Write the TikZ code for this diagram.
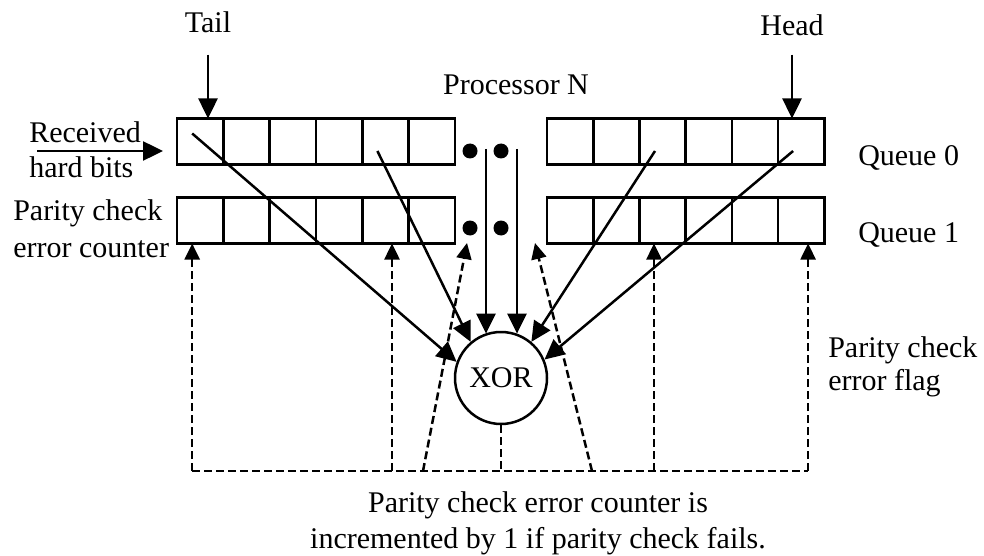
\documentclass[tikz,border=0pt]{standalone}
\usepackage{fontspec}
\setmainfont{Liberation Serif}
\usepackage{tikz}
\usetikzlibrary{arrows.meta, positioning, calc}

\begin{document}
\begin{tikzpicture}[x=1pt, y=-1pt, line width=2.5pt,
        cell/.style={draw, minimum width=46.3pt, minimum height=46pt, inner sep=0pt, outer sep=0pt},
        dot/.style={circle, fill, inner sep=0pt, minimum size=15pt},
        lbl/.style={font=\fontsize{30}{34}\selectfont, inner sep=0pt},
        arr/.style={-{Triangle[length=20pt, width=19pt]}},
        darr/.style={-{Triangle[length=16pt, width=15pt]}, dash pattern=on 8pt off 4pt},
        dline/.style={dash pattern=on 8pt off 4pt}]
        \useasboundingbox (0,0) rectangle (984,556);

        % Queue cells
        \foreach \i in {0,...,5} {
            \node[cell] (la\i) at (200.2+46.3*\i, 141.5) {};
            \node[cell] (lb\i) at (200.2+46.3*\i, 220.5) {};
            \node[cell] (ra\i) at (570.1+46.2*\i, 141.5) {};
            \node[cell] (rb\i) at (570.1+46.2*\i, 220.5) {};
        }

        % Dots between the halves
        \node[dot] (da) at (470,151) {};
        \node[dot] (db) at (501,151) {};
        \node[dot] (dc) at (470,228) {};
        \node[dot] (dd) at (501,228) {};

        % XOR
        \node[circle, draw, minimum size=92pt, lbl] (xor) at (501,378) {XOR};

        % Labels
        \node[lbl, anchor=base] (tail) at (208,33) {Tail};
        \node[lbl, anchor=base] (head) at (792,36) {Head};
        \node[lbl, anchor=base] (proc) at (516,95) {Processor N};
        \node[lbl, anchor=base west] (recv) at (28,143) {Received};
        \node[lbl, anchor=base west] (hard) at (28,178) {hard bits};
        \node[lbl, anchor=base west] (cnt1) at (12,220) {Parity check};
        \node[lbl, anchor=base west] (cnt2) at (12,257) {error counter};
        \node[lbl, anchor=base west] (q0) at (857,165) {Queue 0};
        \node[lbl, anchor=base west] (q1) at (857,242) {Queue 1};
        \node[lbl, anchor=base west] (flag1) at (827,357) {Parity check};
        \node[lbl, anchor=base west] (flag2) at (827,390) {error flag};
        \node[lbl, anchor=base] (note1) at (538,512) {Parity check error counter is};
        \node[lbl, anchor=base] (note2) at (538,548) {incremented by 1 if parity check fails.};

        % Tail, head and input
        \draw[arr] ([yshift=-20pt]tail.south) -- (tail |- la0.north);
        \draw[arr] ([yshift=-17pt]head.south) -- (head |- ra5.north);
        \coordinate (rin) at (37,151);
        \coordinate (rout) at (163,151);
        \draw[arr] (rin) -- (rout);

        % Bits into XOR
        \draw[arr] ([shift={(-8,-8)}]la0.center) -- (xor.160);
        \draw[arr] ([shift={(-8,9.5)}]la4.center) -- (xor.130);
        \draw[arr] ([shift={(-7.5,9.5)}]ra2.center) -- (xor.50);
        \draw[arr] ([shift={(-8,9.5)}]ra5.center) -- (xor.23);
        \coordinate (v1) at (486,149);
        \coordinate (v2) at (517,149);
        \draw[arr] (v1) -- (xor.110 -| v1);
        \draw[arr] (v2) -- (xor.70 -| v2);

        % Error flag back to counters
        \coordinate (b0) at (192,471);
        \coordinate (b1) at (808,471);
        \draw[dline] (b0) -- (b1);
        \draw[dline] (xor.south) -- (xor.south |- b0);
        \coordinate (t1) at ([xshift=-8pt]lb0.south);
        \coordinate (t2) at ([xshift=6.6pt]lb4.south);
        \coordinate (t3) at ([xshift=-8.5pt]rb2.south);
        \coordinate (t4) at ([xshift=7pt]rb5.south);
        \draw[darr] (t1 |- b0) -- (t1);
        \draw[darr] (t2 |- b0) -- (t2);
        \draw[darr] (t3 |- b0) -- (t3);
        \draw[darr] (t4 |- b0) -- (t4);
        \coordinate (s1) at (423,471);
        \coordinate (s2) at (592,471);
        \coordinate (e1) at (467,243);
        \coordinate (e2) at (535,243);
        \draw[darr] (s1) -- (e1);
        \draw[darr] (s2) -- (e2);
\end{tikzpicture}
\end{document}
